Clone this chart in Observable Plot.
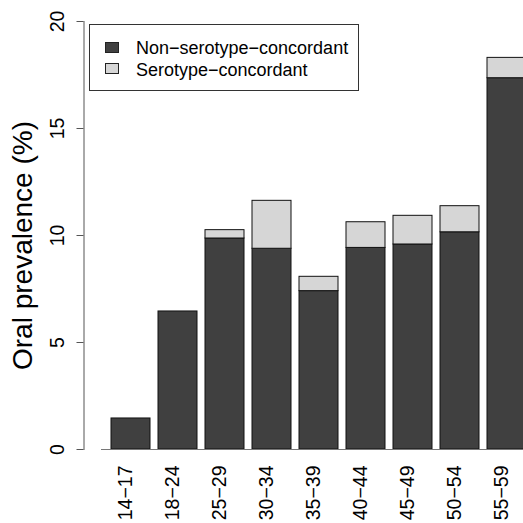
<!DOCTYPE html>
<html>
<head>
<meta charset="utf-8">
<script src="https://cdn.jsdelivr.net/npm/d3@7"></script>
<script src="https://cdn.jsdelivr.net/npm/@observablehq/plot@0.6"></script>
<style>
  html, body { margin: 0; padding: 0; background: #fff; overflow: hidden; }
  #chart { position: relative; width: 523px; height: 523px; font-family: "Liberation Sans", Arial, Helvetica, sans-serif; }
  #chart svg { display: block; }
  .legend { position: absolute; left: 88.5px; top: 24px; width: 270.5px; height: 67px;
            border: 1px solid #333; box-sizing: border-box; background: #fff; }
  .legend .sw { position: absolute; left: 15.5px; width: 14px; height: 11px; box-sizing: border-box; border: 1px solid #222; }
  .legend .lab { position: absolute; left: 46.5px; font-size: 18px; line-height: 18px; color: #000; white-space: nowrap; }
</style>
</head>
<body>
<div id="chart"></div>
<script>
// Age groups (x categories)
const ageGroups = ["14−17", "18−24", "25−29", "30−34", "35−39", "40−44", "45−49", "50−54", "55−59"];
// Oral prevalence (%) split into the two stacked components
const nonConcordant = [1.45, 6.45, 9.86, 9.38, 7.40, 9.42, 9.58, 10.15, 17.35];
const concordant    = [0.00, 0.00, 0.39, 2.24, 0.67, 1.20, 1.34, 1.22, 0.95];
const seriesNames = ["Non−serotype−concordant", "Serotype−concordant"];
const seriesColors = ["#404040", "#d6d6d6"];
const yTicks = [0, 5, 10, 15, 20];
const yTitle = "Oral prevalence (%)";

const rows = ageGroups.flatMap((age, i) => [
  {age, series: seriesNames[0], value: nonConcordant[i]},
  {age, series: seriesNames[1], value: concordant[i]}
]);

const font = '"Liberation Sans", Arial, Helvetica, sans-serif';

const chart = Plot.plot({
  width: 523,
  height: 523,
  marginLeft: 83.5,
  marginRight: 0,
  marginTop: 21,
  marginBottom: 74,
  style: {fontFamily: font, background: "white", color: "#000"},
  x: {type: "band", domain: ageGroups, range: [101, 535.4], paddingInner: 1 / 6, paddingOuter: 0.175, axis: null},
  y: {domain: [0, 20], axis: null},
  color: {domain: seriesNames, range: seriesColors},
  marks: [
    Plot.barY(rows, {x: "age", y: "value", fill: "series", stroke: "#111", strokeWidth: 1, clip: true}),
    Plot.ruleY([0], {insetLeft: 17.5, stroke: "#777", strokeWidth: 1.2}),
    Plot.frame({anchor: "left", stroke: "#555"}),
    Plot.axisY(yTicks, {anchor: "left", tickSize: 7, tickRotate: -90, textAnchor: "middle", lineAnchor: "middle",
                        tickPadding: 19, fontSize: 19.5, stroke: "#555", fill: "#000", label: null}),
    Plot.text(ageGroups, {x: d => d, frameAnchor: "bottom", rotate: -90, textAnchor: "end", lineAnchor: "middle",
                          dx: -5.5, dy: 16, fontSize: 19.5, fill: "#000"}),
    Plot.text([yTitle], {frameAnchor: "left", rotate: -90, textAnchor: "middle", lineAnchor: "middle",
                         dx: -61, dy: 10, fontSize: 28, fill: "#000"})
  ]
});

const root = document.getElementById("chart");
root.appendChild(chart);

// Legend box in the top-left corner of the plotting area
const legend = document.createElement("div");
legend.className = "legend";
const swTops = [16.7, 38.3];
const labTops = [13.8, 35.8];
seriesNames.forEach((name, i) => {
  const sw = document.createElement("div");
  sw.className = "sw";
  sw.style.top = swTops[i] + "px";
  sw.style.background = seriesColors[i];
  legend.appendChild(sw);
  const lab = document.createElement("div");
  lab.className = "lab";
  lab.style.top = labTops[i] + "px";
  lab.textContent = name;
  legend.appendChild(lab);
});
root.appendChild(legend);
</script>
</body>
</html>
